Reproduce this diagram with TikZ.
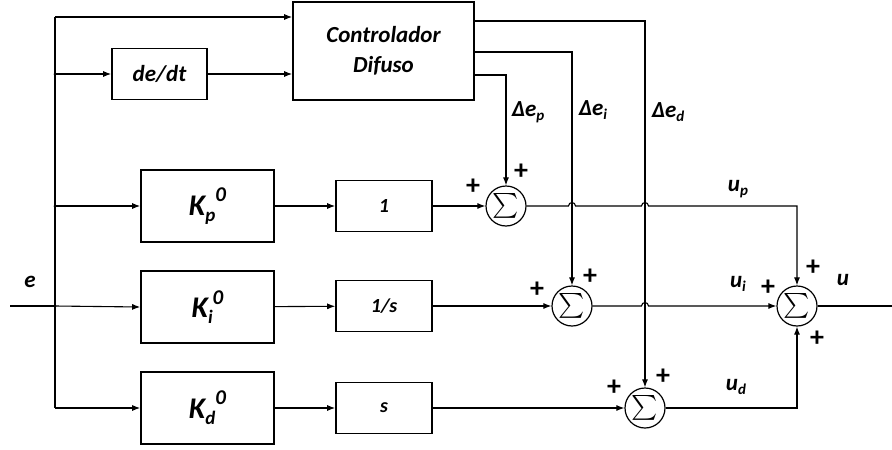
\documentclass[tikz,border=0pt]{standalone}
\usepackage{exscale}
\usepackage{fontspec}
\setmainfont{Carlito}
\usetikzlibrary{arrows.meta,calc}
\tikzset{
  x=1pt,y=-1pt,
  blk/.style={draw,line width=1.6pt,inner sep=0pt,font=\fontsize{20}{22}\selectfont\bfseries\itshape},
  kblk/.style={blk,minimum width=133pt,minimum height=72pt,font=\fontsize{30}{32}\selectfont\bfseries\itshape},
  sblk/.style={blk,minimum width=96pt,minimum height=51pt},
  sumn/.style={draw,circle,line width=1.2pt,minimum size=40pt,inner sep=0pt,font=\fontsize{24}{24}\selectfont},
  wire/.style={line width=1.1pt},
  arr/.style={wire,-{Latex[length=8pt,width=6pt]}},
  lbl/.style={font=\fontsize{23}{25}\selectfont\bfseries\itshape,inner sep=0pt},
  pls/.style={font=\fontsize{28}{28}\selectfont\bfseries,inner sep=0pt},
  dot/.style={circle,fill,inner sep=0pt,minimum size=3pt}
}
\newcommand\sbs[1]{\raisebox{-0.35ex}{\fontsize{15}{15}\selectfont #1}}
\newcommand\ksb[1]{\raisebox{-0.4ex}{\fontsize{19}{19}\selectfont #1}}
\newcommand\ksp[1]{\raisebox{0.95ex}{\fontsize{21}{21}\selectfont #1}}
\begin{document}
\begin{tikzpicture}
\useasboundingbox (0,0) rectangle (892,450);
% blocks
\node[blk,minimum width=181pt,minimum height=98pt,align=center,font=\fontsize{23}{30}\selectfont\bfseries\itshape] (ctrl) at (383.5,51) {Controlador\\Difuso};
\node[blk,minimum width=95pt,minimum height=51pt,font=\fontsize{23}{25}\selectfont\bfseries\itshape] (dedt) at (159.5,74) {de/dt};
\node[kblk] (kp) at (207.5,206) {K\ksb{p}\ksp{0}};
\node[kblk] (ki) at (207.5,307) {K\ksb{i}\ksp{0}};
\node[kblk] (kd) at (207.5,408) {K\ksb{d}\ksp{0}};
\node[sblk] (one) at (384,206) {1};
\node[sblk] (ones) at (384,306) {1/s};
\node[sblk] (s) at (384,408) {s};
\node[sumn] (sump) at (506,206) {$\sum$};
\node[sumn] (sumi) at (572,306) {$\sum$};
\node[sumn] (sumd) at (645,408) {$\sum$};
\node[sumn] (sumu) at (797,306) {$\sum$};
% coordinates
\coordinate (ein) at (10,306);
\coordinate (bustop) at (55,17);
\coordinate (busbot) at (55,408);
\coordinate (j1) at (55,74);
\coordinate (j2) at (55,206);
\coordinate (j3) at (55,306);
\coordinate (yp) at (0,75);
\coordinate (yi) at (0,52);
\coordinate (yd) at (0,21);
\coordinate (uout) at (892,306);
\coordinate (h1) at (sumi |- sump);
\coordinate (h2) at (sumd |- sump);
\coordinate (h3) at (sumd |- sumi);
\coordinate (cp) at (sumu |- sump);
\coordinate (cd) at (sumu |- sumd);
% bus
\draw[wire] (ein) -- (j3);
\draw[wire] (bustop) -- (busbot);
\node[dot] at (j1) {};
\node[dot] at (j2) {};
\node[dot] at (j3) {};
\draw[arr] (bustop) -- (ctrl.west |- bustop);
\draw[arr] (j1) -- (dedt.west |- j1);
\draw[arr] (dedt.east) -- (ctrl.west |- dedt.east);
\draw[arr] (j2) -- (kp.west);
\draw[arr] (j3) -- (ki.west);
\draw[arr] (busbot) -- (kd.west);
\draw[arr] (kp) -- (one);
\draw[arr] (ki) -- (ones);
\draw[arr] (kd) -- (s);
\draw[arr] (one) -- (sump);
\draw[arr] (ones) -- (sumi);
\draw[arr] (s) -- (sumd);
% controller outputs
\draw[arr] (ctrl.east |- yp) -| (sump.north);
\draw[arr] (ctrl.east |- yi) -| (sumi.north);
\draw[arr] (ctrl.east |- yd) -| (sumd.north);
% outputs to final sum
\draw[wire,-{Latex[length=8pt,width=6pt]}] (sump.east)
  -- ([xshift=-3.5pt]h1) .. controls ([xshift=-3.5pt,yshift=4.5pt]h1) and ([xshift=3.5pt,yshift=4.5pt]h1) .. ([xshift=3.5pt]h1)
  -- ([xshift=-3.5pt]h2) .. controls ([xshift=-3.5pt,yshift=4.5pt]h2) and ([xshift=3.5pt,yshift=4.5pt]h2) .. ([xshift=3.5pt]h2)
  -- (cp) -- (sumu.north);
\draw[wire,-{Latex[length=8pt,width=6pt]}] (sumi.east)
  -- ([xshift=-3.5pt]h3) .. controls ([xshift=-3.5pt,yshift=4.5pt]h3) and ([xshift=3.5pt,yshift=4.5pt]h3) .. ([xshift=3.5pt]h3)
  -- (sumu.west);
\draw[arr] (sumd.east) -- (cd) -- (sumu.south);
\draw[wire] (sumu.east) -- (uout);
% labels
\node[lbl] (le) at (30,282) {e};
\node[lbl] (lep) at (528,112) {Δe\sbs{p}};
\node[lbl] (lei) at (593,110) {Δe\sbs{i}};
\node[lbl] (led) at (668,112) {Δe\sbs{d}};
\node[lbl] (lup) at (738,189) {u\sbs{p}};
\node[lbl] (lui) at (738,284) {u\sbs{i}};
\node[lbl] (lud) at (736,387) {u\sbs{d}};
\node[lbl] (lu) at (843,280) {u};
% plus signs
\node[pls] at (473,187) {+};
\node[pls] at (521,172) {+};
\node[pls] at (537,290) {+};
\node[pls] at (590,277) {+};
\node[pls] at (614,388) {+};
\node[pls] at (663,377) {+};
\node[pls] at (768,288) {+};
\node[pls] at (813,268) {+};
\node[pls] at (817,339) {+};
\end{tikzpicture}
\end{document}
